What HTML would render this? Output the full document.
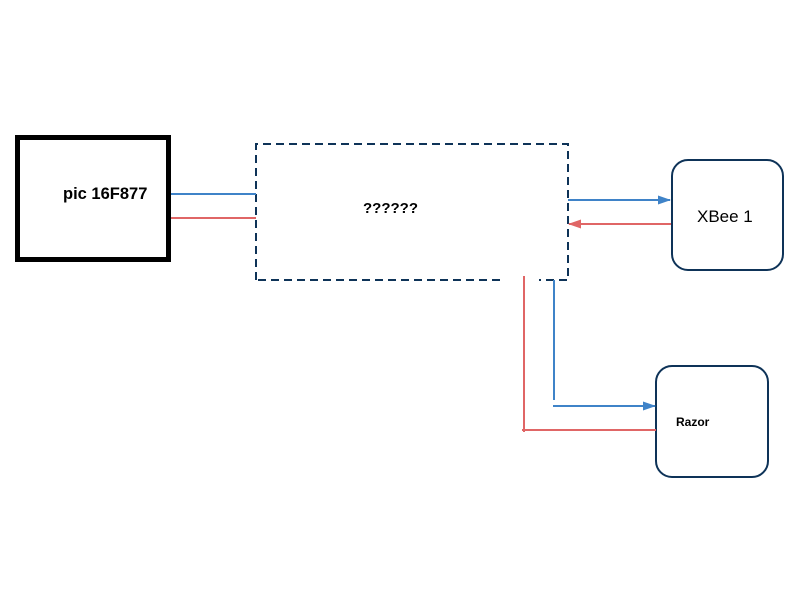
<!DOCTYPE html>
<html><head><style>body{margin:0;background:#fff}svg{display:block}</style></head><body>
<svg width="800" height="600" xmlns="http://www.w3.org/2000/svg" font-family="Liberation Sans, sans-serif">
<defs>
<marker id="ab" markerWidth="13" markerHeight="9" refX="12" refY="4.5" orient="auto" markerUnits="userSpaceOnUse"><path d="M0,0 L13,4.5 L0,9z" fill="#3f83c8"/></marker>
<marker id="ar" markerWidth="13" markerHeight="9" refX="12" refY="4.5" orient="auto" markerUnits="userSpaceOnUse"><path d="M0,0 L13,4.5 L0,9z" fill="#e06666"/></marker>
</defs>
<rect x="17.5" y="137.5" width="151" height="122" fill="none" stroke="#000" stroke-width="5"/>
<text x="63" y="199" font-size="16.5" font-weight="bold">pic 16F877</text>
<path d="M256,280 V144 H568 V280 H539 M500,280 H256" fill="none" stroke="#0e3358" stroke-width="2" stroke-dasharray="8,5"/>
<text x="363" y="213" font-size="15" font-weight="bold">??????</text>
<line x1="171" y1="194" x2="256" y2="194" stroke="#3f83c8" stroke-width="2"/>
<line x1="171" y1="218" x2="256" y2="218" stroke="#e06666" stroke-width="2"/>
<rect x="672" y="160" width="111" height="110" rx="16" fill="none" stroke="#0e3358" stroke-width="2"/>
<text x="697" y="222" font-size="17">XBee 1</text>
<line x1="568" y1="200" x2="670" y2="200" stroke="#3f83c8" stroke-width="2" marker-end="url(#ab)"/>
<line x1="671" y1="224" x2="569" y2="224" stroke="#e06666" stroke-width="2" marker-end="url(#ar)"/>
<rect x="656" y="366" width="112" height="111" rx="16" fill="none" stroke="#0e3358" stroke-width="2"/>
<text x="676" y="426" font-size="12" font-weight="bold">Razor</text>
<path d="M554,280 V400" stroke="#3f83c8" stroke-width="2" fill="none"/>
<line x1="553" y1="406" x2="655" y2="406" stroke="#3f83c8" stroke-width="2" marker-end="url(#ab)"/>
<path d="M524,276 V432 M522,430 H656" stroke="#e06666" stroke-width="2" fill="none"/>
</svg>
</body></html>
